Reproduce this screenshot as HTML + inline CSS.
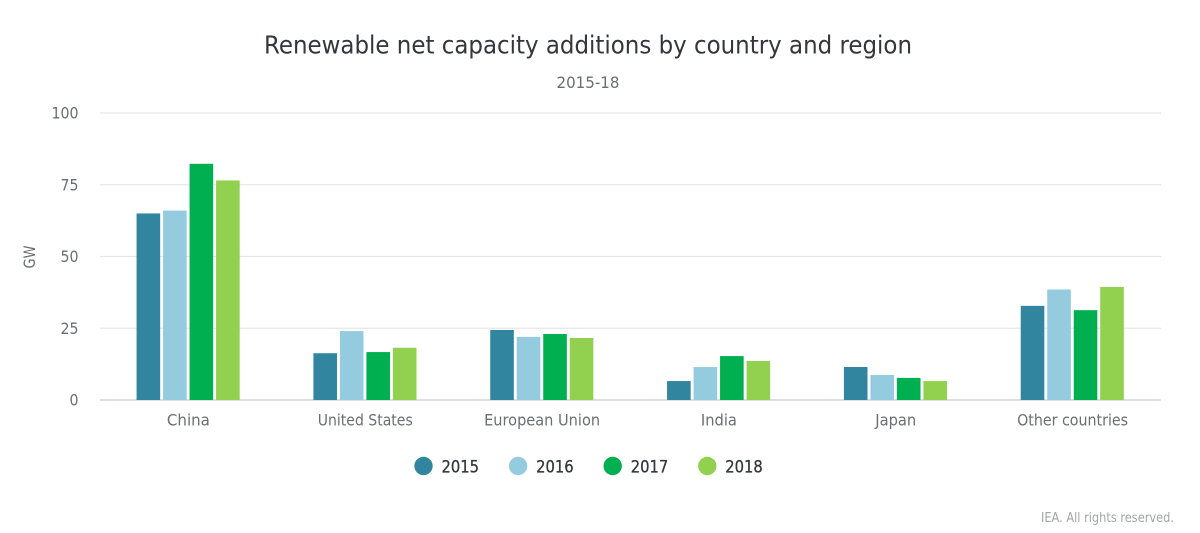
<!DOCTYPE html>
<html lang="en">
<head>
<meta charset="utf-8">
<title>Renewable net capacity additions by country and region</title>
<style>
html,body{margin:0;padding:0;background:#fff;width:1200px;height:533px;overflow:hidden}
svg{display:block}
text{font-family:"DejaVu Sans","Liberation Sans",sans-serif}
</style>
</head>
<body>
<svg id="chart" width="1200" height="533" viewBox="0 0 1200 533">
  <text x="588" y="53.5" text-anchor="middle" font-size="25" fill="#33363d" textLength="648" lengthAdjust="spacingAndGlyphs">Renewable net capacity additions by country and region</text>
  <text x="588" y="88" text-anchor="middle" font-size="16" fill="#6b6e72" textLength="63" lengthAdjust="spacingAndGlyphs">2015-18</text>
  <text transform="translate(35 257) rotate(-90)" text-anchor="middle" font-size="16" fill="#6b6e72" textLength="23" lengthAdjust="spacingAndGlyphs">GW</text>
  <g id="grid"></g>
  <g id="bars"></g>
  <g id="xlabels"></g>
  <g id="legend"></g>
  <text x="1174" y="522" text-anchor="end" font-size="13" fill="#a3a5a8" textLength="133" lengthAdjust="spacingAndGlyphs">IEA. All rights reserved.</text>
</svg>
<script>
const categories = ["China", "United States", "European Union", "India", "Japan", "Other countries"];
const seriesNames = ["2015", "2016", "2017", "2018"];
const values2015 = [65, 16.3, 24.4, 6.6, 11.5, 32.8];
const values2016 = [66, 24, 22, 11.5, 8.7, 38.5];
const values2017 = [82.3, 16.7, 23, 15.3, 7.7, 31.3];
const values2018 = [76.5, 18.2, 21.6, 13.6, 6.6, 39.4];
const yTicks = [0, 25, 50, 75, 100];

const seriesValues = [values2015, values2016, values2017, values2018];
const seriesColors = ["#32859f", "#94cbdf", "#00b050", "#92d050"];
const NS = "http://www.w3.org/2000/svg";
const plot = {left: 100, right: 1161, top: 113, bottom: 400};
const yMax = 100;
const barWidth = 23.6;
const barPitch = 26.5;
const barShift = -0.3;

function yScale(v) {
  return plot.bottom - (v / yMax) * (plot.bottom - plot.top);
}
function xCenter(i) {
  return plot.left + (i + 0.5) * (plot.right - plot.left) / categories.length;
}
function make(tag, attrs, parent) {
  const el = document.createElementNS(NS, tag);
  for (const k in attrs) el.setAttribute(k, attrs[k]);
  parent.appendChild(el);
  return el;
}

const grid = document.getElementById("grid");
yTicks.forEach(function (t) {
  const y = yScale(t);
  const line = make("line", {x1: plot.left, x2: plot.right, y1: y, y2: y, stroke: t === 0 ? "#ccd6e6" : "#e6e6e6", "stroke-width": t === 0 ? 1.4 : 1.2}, grid);
  
  
  const label = make("text", {x: 78.5, y: y + 5.5, "text-anchor": "end", "font-size": 16, fill: "#6b6e72", textLength: String(t).length * 9, lengthAdjust: "spacingAndGlyphs"}, grid);
  label.textContent = t;
  
  
});

const bars = document.getElementById("bars");
seriesValues.forEach(function (vals, s) {
  vals.forEach(function (v, i) {
    const x = barShift + xCenter(i) - (seriesValues.length * barPitch - (barPitch - barWidth)) / 2 + s * barPitch;
    const y = yScale(v);
    const r = make("rect", {x: x, y: y, width: barWidth, height: plot.bottom - y, fill: seriesColors[s]}, bars);
    
    
  });
});

const xlabels = document.getElementById("xlabels");
const xLabelWidths = [43, 95, 116, 36, 41, 111];
categories.forEach(function (c, i) {
  const t = make("text", {x: xCenter(i), y: 425.5, "text-anchor": "middle", "font-size": 16, fill: "#6b6e72", textLength: xLabelWidths[i], lengthAdjust: "spacingAndGlyphs"}, xlabels);
  t.textContent = c;
  
  
});

const legend = document.getElementById("legend");
const legendStart = 423.5;
const legendPitch = 94.6;
seriesNames.forEach(function (n, s) {
  const cx = legendStart + s * legendPitch;
  const c = make("circle", {cx: cx, cy: 466, r: 9.2, fill: seriesColors[s]}, legend);
  
  
  const t = make("text", {x: cx + 18, y: 472.5, "font-size": 17, fill: "#33363d", stroke: "#33363d", "stroke-width": 0.3, textLength: 37.5, lengthAdjust: "spacingAndGlyphs"}, legend);
  t.textContent = n;
  
  
});
</script>
</body>
</html>
